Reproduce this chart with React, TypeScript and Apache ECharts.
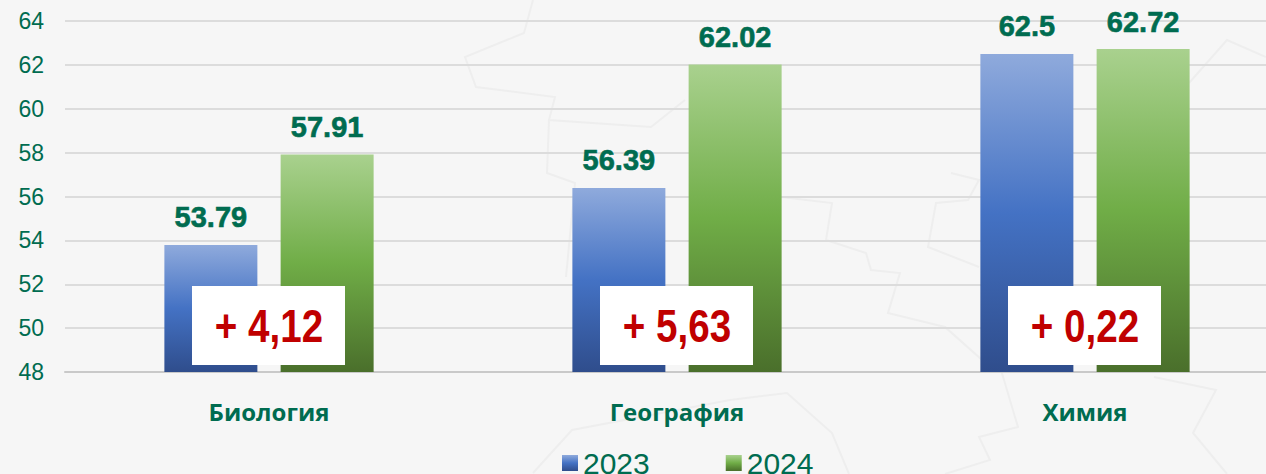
import React, { useEffect, useRef } from "react";
import * as echarts from "echarts";

const categories = ["Биология", "География", "Химия"];
const values2023 = [53.79, 56.39, 62.5];
const values2024 = [57.91, 62.02, 62.72];
const deltas = ["+ 4,12", "+ 5,63", "+ 0,22"];
const TEXT = "#006c50";

// faint decorative map contours behind the chart
const contours: number[][][] = [
  [[533, 0], [524, 33], [465, 57], [476, 87], [555, 97], [549, 120], [651, 127], [685, 100]],
  [[549, 120], [547, 173], [575, 183], [566, 277]],
  [[781, 197], [832, 203], [826, 240], [866, 253], [871, 270], [900, 273], [888, 313], [945, 327], [990, 367]],
  [[951, 173], [979, 180], [968, 200], [936, 203], [928, 247], [979, 267]],
  [[1189, 83], [1227, 40], [1266, 57]],
  [[533, 473], [572, 430], [730, 400], [787, 393], [832, 433], [849, 474]],
  [[1001, 370], [1018, 427], [979, 437], [990, 460], [945, 474]],
  [[1154, 377], [1216, 390], [1193, 433], [1227, 474]],
];

const grad = (stops: string[]) =>
  new echarts.graphic.LinearGradient(0, 0, 0, 1, [
    { offset: 0, color: stops[0] },
    { offset: 0.5, color: stops[1] },
    { offset: 1, color: stops[2] },
  ]);

export default function App() {
  const ref = useRef<HTMLDivElement>(null);
  useEffect(() => {
    document.body.style.margin = "0";
    const chart = echarts.init(ref.current!, undefined, { renderer: "svg" });
    const label = {
      show: true,
      position: "top" as const,
      distance: 13,
      color: TEXT,
      fontFamily: "Liberation Sans",
      fontWeight: "bold" as const,
      fontSize: 29,
      textBorderColor: TEXT,
      textBorderWidth: 0.6,
    };
    chart.setOption({
      animation: false,
      backgroundColor: "#f6f6f6",
      grid: { left: 65, top: 21, width: 1224, height: 351, containLabel: false, outerBoundsMode: "none" },
      legend: {
        data: ["2023", "2024"],
        left: 562,
        top: 448,
        padding: 0,
        itemWidth: 16,
        itemHeight: 16,
        itemGap: 76,
        icon: "rect",
        textStyle: { color: TEXT, fontFamily: "Liberation Sans", fontSize: 30, lineHeight: 22 },
      },
      xAxis: {
        type: "category",
        data: categories,
        axisLine: { lineStyle: { color: "#c9c9c9", width: 2 } },
        axisTick: { show: false },
        axisLabel: { color: TEXT, fontFamily: "Open Sans", fontWeight: "bold", fontSize: 24, margin: 27 },
      },
      yAxis: {
        type: "value",
        min: 48,
        max: 64,
        interval: 2,
        axisLine: { show: false },
        axisTick: { show: false },
        axisLabel: { color: TEXT, fontFamily: "Liberation Sans", fontSize: 23, margin: 21 },
        splitLine: { lineStyle: { color: "#dcdcdc", width: 2 } },
      },
      series: [
        {
          name: "2023",
          type: "bar",
          data: values2023,
          barWidth: 93,
          barGap: "25%",
          label,
          itemStyle: { color: grad(["#8faadc", "#4472c4", "#2f4d8c"]) },
        },
        {
          name: "2024",
          type: "bar",
          data: values2024,
          barWidth: 93,
          label,
          itemStyle: { color: grad(["#a9d18e", "#70ad47", "#4a6f2b"]) },
        },
      ],
      graphic: [
        ...contours.map((points) => ({
          type: "polyline",
          z: -1,
          silent: true,
          shape: { points },
          style: { stroke: "#eeeeee", lineWidth: 2, fill: "none" },
        })),
        ...deltas.map((t, i) => ({
          type: "group",
          x: 192 + i * 408,
          y: 286,
          z: 100,
          children: [
            { type: "rect", z: 100, shape: { x: 0, y: 0, width: 153, height: 79 }, style: { fill: "#ffffff" } },
            {
              type: "text",
              z: 101,
              x: 77,
              y: 40,
              scaleX: 0.84,
              style: {
                text: t,
                fill: "#c00000",
                fontFamily: "Liberation Sans",
                fontWeight: "bold",
                fontSize: 46,
                align: "center",
                verticalAlign: "middle",
              },
            },
          ],
        })),
      ],
    });
    return () => chart.dispose();
  }, []);
  return <div ref={ref} style={{ width: 1266, height: 474 }} />;
}
